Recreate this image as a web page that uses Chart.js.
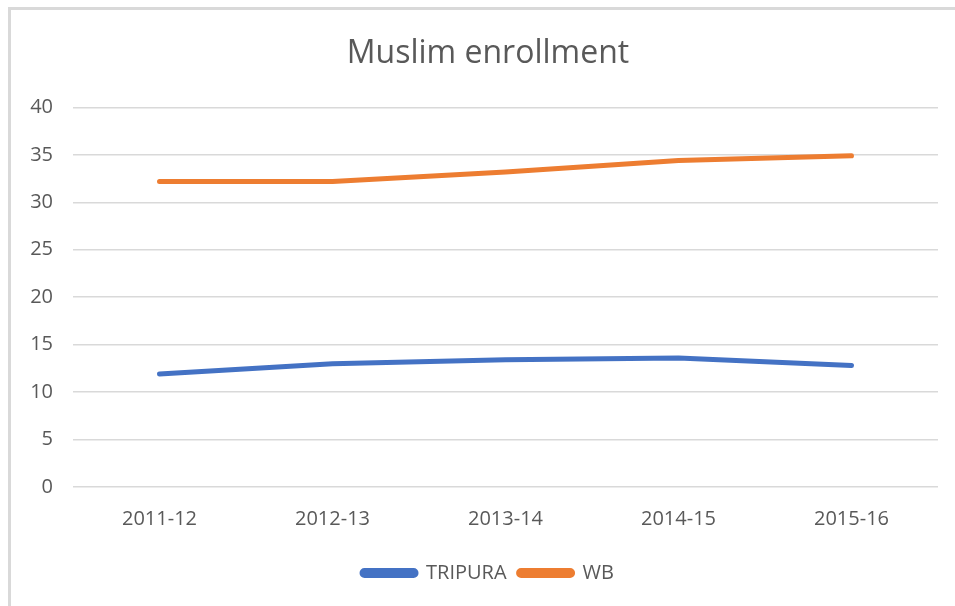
<!DOCTYPE html>
<html>
<head>
<meta charset="utf-8">
<script src="https://cdn.jsdelivr.net/npm/chart.js@4"></script>
<style>
  html, body { margin: 0; padding: 0; background: #fff; }
  #wrap { position: relative; width: 955px; height: 606px; }
  #frameL { position: absolute; left: 8px; top: 7px; width: 3px; height: 599px; background: #d9d9d9; }
  #frameT { position: absolute; left: 8px; top: 7px; width: 947px; height: 3px; background: #d9d9d9; }
  canvas { position: absolute; left: 0; top: 0; }
</style>
</head>
<body>
<div id="wrap">
  <canvas id="c" width="955" height="606"></canvas>
  <div id="frameL"></div>
  <div id="frameT"></div>
</div>
<script>
const categories = ['2011-12', '2012-13', '2013-14', '2014-15', '2015-16'];
const tripura = [11.9, 13.0, 13.4, 13.6, 12.8];
const wb = [32.2, 32.2, 33.2, 34.4, 34.9];
const yTicks = [0, 5, 10, 15, 20, 25, 30, 35, 40];

const textColor = '#595959';
const fontFamily = "'Open Sans', 'Liberation Sans', sans-serif";

new Chart(document.getElementById('c'), {
  type: 'line',
  data: {
    labels: categories,
    datasets: [
      {
        label: 'TRIPURA',
        data: tripura,
        borderColor: '#4472C4',
        backgroundColor: '#4472C4',
        borderWidth: 5,
        pointRadius: 0,
        tension: 0,
        borderCapStyle: 'round',
        borderJoinStyle: 'round'
      },
      {
        label: 'WB',
        data: wb,
        borderColor: '#ED7D31',
        backgroundColor: '#ED7D31',
        borderWidth: 5,
        pointRadius: 0,
        tension: 0,
        borderCapStyle: 'round',
        borderJoinStyle: 'round'
      }
    ]
  },
  options: {
    responsive: false,
    animation: false,
    layout: { padding: { left: 21, right: 0, top: 0, bottom: 13 } },
    plugins: {
      title: {
        display: true,
        text: 'Muslim enrollment',
        color: textColor,
        font: { family: fontFamily, size: 32, weight: 'normal' },
        padding: { top: 35, bottom: 34 }
      },
      legend: {
        position: 'bottom',
        labels: {
          color: textColor,
          font: { family: fontFamily, size: 20 },
          boxWidth: 54,
          boxHeight: 5,
          useBorderRadius: true,
          borderRadius: 2.5,
          padding: 12
        }
      },
      tooltip: { enabled: false }
    },
    scales: {
      x: {
        offset: true,
        grid: { display: false, drawTicks: false },
        border: { display: false },
        ticks: { color: textColor, font: { family: fontFamily, size: 20 }, padding: 20 }
      },
      y: {
        min: 0,
        max: 40,
        afterBuildTicks: (axis) => { axis.ticks = yTicks.map(v => ({ value: v })); },
        afterFit: (axis) => { axis.width = 52; },
        grid: { color: '#d9d9d9', lineWidth: 1.5, drawTicks: false },
        border: { display: false },
        ticks: { color: textColor, font: { family: fontFamily, size: 20 }, padding: 20 }
      },
      yRight: {
        position: 'right',
        display: true,
        min: 0,
        max: 40,
        afterFit: (axis) => { axis.width = 17; },
        grid: { display: false, drawTicks: false },
        border: { display: false },
        ticks: { display: false }
      }
    }
  }
});
</script>
</body>
</html>
